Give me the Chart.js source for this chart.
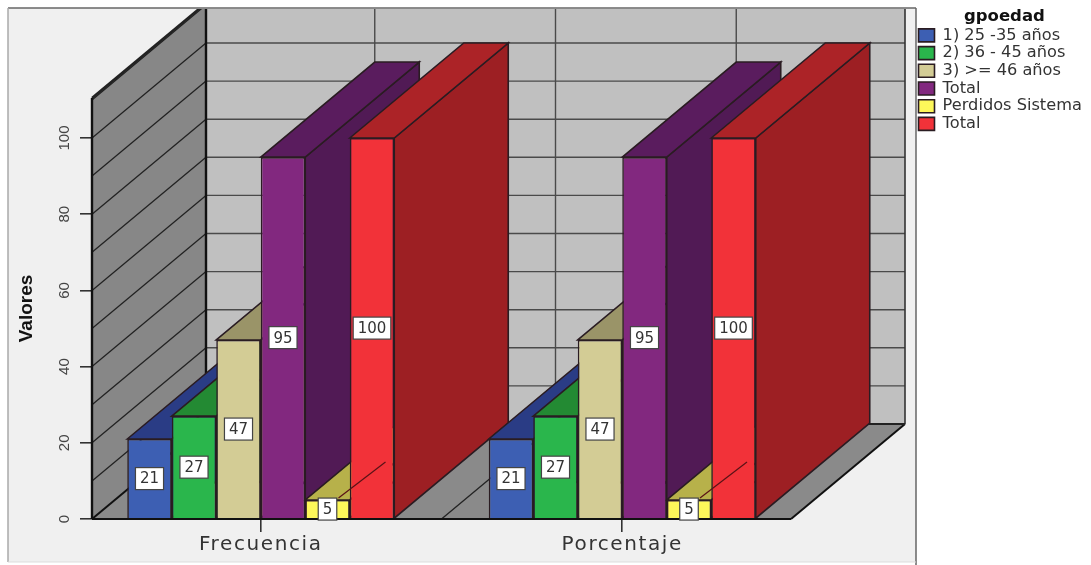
<!DOCTYPE html>
<html>
<head>
<meta charset="utf-8">
<title>Valores por gpoedad</title>
<script src="https://cdn.jsdelivr.net/npm/chart.js@4/dist/chart.umd.js"></script>
<style>
  html, body { margin: 0; padding: 0; background: #fff; }
  canvas { display: block; }
</style>
</head>
<body>
<canvas id="myChart" width="1091" height="565"></canvas>
<script>
// data
const categories = ['Frecuencia', 'Porcentaje'];
const seriesNames = ['1) 25 -35 años', '2) 36 - 45 años', '3) >= 46 años', 'Total', 'Perdidos Sistema', 'Total'];
const edad25a35 = [21, 21];
const edad36a45 = [27, 27];
const edad46mas = [47, 47];
const totalValidos = [95, 95];
const perdidos = [5, 5];
const totalGeneral = [100, 100];
const yTicks = [0, 20, 40, 60, 80, 100];
const wallLevels = [0, 10, 20, 30, 40, 50, 60, 70, 80, 90, 100, 110];

// colours of each box: front, side, top
const frontColors = ['#3d5fb3', '#2ab64c', '#d3cc95', '#82287f', '#fdf75a', '#f23239'];
const sideColors = ['#2a3c85', '#238a33', '#9a9468', '#511a55', '#b7b14a', '#9d1f23'];
const topColors = ['#2a3c85', '#238a33', '#9a9468', '#5a1c5e', '#b7b14a', '#ac2327'];
const edge = '#2a1c22';

// 3D look: how far the back plane is shifted from the front plane
const depthX = 114;
const depthY = 95;
const wallInset = 12;

const values = [edad25a35, edad36a45, edad46mas, totalValidos, perdidos, totalGeneral];

function poly(ctx, pts, fill, stroke, width) {
  ctx.beginPath();
  pts.forEach((p, i) => i ? ctx.lineTo(p[0], p[1]) : ctx.moveTo(p[0], p[1]));
  ctx.closePath();
  if (fill) { ctx.fillStyle = fill; ctx.fill(); }
  if (stroke) { ctx.strokeStyle = stroke; ctx.lineWidth = width; ctx.stroke(); }
}

function line(ctx, x1, y1, x2, y2, color, width) {
  ctx.beginPath();
  ctx.moveTo(x1, y1);
  ctx.lineTo(x2, y2);
  ctx.strokeStyle = color;
  ctx.lineWidth = width;
  ctx.stroke();
}

const panelPlugin = {
  id: 'panel',
  afterLayout(chart) {
    // legend sits outside the plot panel
    const legend = chart.legend;
    legend.left = 917;
    legend.right = legend.left + legend.width;
    legend.top = 8;
    legend.bottom = legend.top + legend.height;
  },
  beforeDraw(chart) {
    const ctx = chart.ctx;
    ctx.save();
    ctx.fillStyle = '#f0f0f0';
    ctx.fillRect(8, 8, 908, 554);
    line(ctx, 8, 8, 916, 8, '#666', 1.5);
    line(ctx, 916, 8, 916, 565, '#666', 1.5);
    line(ctx, 8, 8, 8, 562, '#aaa', 1.5);
    line(ctx, 8, 562, 916, 562, '#ddd', 1);
    ctx.restore();

    // category names are set wide
    const xAxis = chart.scales.x;
    if (!xAxis.spaced) {
      const drawLabels = xAxis.drawLabels;
      xAxis.drawLabels = function (area) {
        ctx.letterSpacing = '1.6px';
        drawLabels.call(this, area);
        ctx.letterSpacing = '0px';
      };
      xAxis.spaced = true;
    }
  }
};

const boxesPlugin = {
  id: 'boxes',
  beforeDatasetsDraw(chart) {
    const ctx = chart.ctx;
    const yScale = chart.scales.y;
    const xScale = chart.scales.x;
    const left = chart.chartArea.left + wallInset;
    const right = chart.chartArea.right - wallInset;
    const zero = yScale.getPixelForValue(0);
    const top = yScale.getPixelForValue(110.5);

    ctx.save();
    ctx.beginPath();
    ctx.rect(8, 9, 908, 555);
    ctx.clip();

    // back wall, side wall, floor
    poly(ctx, [[left + depthX, 8], [right + depthX, 8], [right + depthX, zero - depthY], [left + depthX, zero - depthY]], '#c0c0c0');
    poly(ctx, [[left, top], [left + depthX, top - depthY], [left + depthX, zero - depthY], [left, zero]], '#878787');
    poly(ctx, [[left, zero], [left + depthX, zero - depthY], [right + depthX, zero - depthY], [right, zero]], '#8a8a8a');

    wallLevels.forEach(v => {
      const y = yScale.getPixelForValue(v);
      line(ctx, left + depthX, y - depthY, right + depthX, y - depthY, '#4a4a4a', 1.4);
      if (v > 0) line(ctx, left, y, left + depthX, y - depthY, '#222', 1.3);
    });

    // verticals on the back wall and their lines across the floor
    [xScale.getPixelForValue(0), xScale.getPixelForValue(0.5), xScale.getPixelForValue(1)].forEach(x => {
      line(ctx, x + depthX, 8, x + depthX, zero - depthY, '#4a4a4a', 1.4);
      line(ctx, x, zero, x + depthX, zero - depthY, '#222', 1.3);
    });

    line(ctx, left, top, left + depthX, top - depthY, '#222', 2.4);
    line(ctx, left, top, left, zero, '#111', 2.4);
    line(ctx, left + depthX, 8, left + depthX, zero - depthY, '#111', 2.4);
    line(ctx, left, zero, left + depthX, zero - depthY, '#111', 2);
    line(ctx, right, zero, right + depthX, zero - depthY, '#111', 2);
    line(ctx, right + depthX, 8, right + depthX, zero - depthY, '#333', 1.6);
    line(ctx, left + depthX, zero - depthY, right + depthX, zero - depthY, '#222', 1.8);

    // side and top of every bar, left to right so nearer ones cover the rest
    categories.forEach((c, j) => {
      values.forEach((v, i) => {
        const bar = chart.getDatasetMeta(i).data[j];
        const x1 = bar.x - bar.width / 2;
        const x2 = bar.x + bar.width / 2;
        poly(ctx, [[x2, bar.y], [x2 + depthX, bar.y - depthY], [x2 + depthX, bar.base - depthY], [x2, bar.base]], sideColors[i], edge, 1.6);
        poly(ctx, [[x1, bar.y], [x1 + depthX, bar.y - depthY], [x2 + depthX, bar.y - depthY], [x2, bar.y]], topColors[i], edge, 1.6);
      });
    });
    ctx.restore();
  },
  afterDatasetsDraw(chart) {
    const ctx = chart.ctx;
    const yScale = chart.scales.y;
    const zero = yScale.getPixelForValue(0);
    line(ctx, chart.chartArea.left + wallInset, zero, chart.chartArea.right - wallInset, zero, '#111', 2);

    ctx.save();
    ctx.font = '15px "DejaVu Sans"';
    ctx.textAlign = 'center';
    ctx.textBaseline = 'middle';
    categories.forEach((c, j) => {
      values.forEach((v, i) => {
        const bar = chart.getDatasetMeta(i).data[j];
        const cy = (bar.y + bar.base) / 2;
        const text = String(v[j]);

        // the small bar's label is tied to its box by a short leader
        if (i === 4) line(ctx, bar.x + 11, bar.y - 2, bar.x + 58, bar.y - 38, '#5a1216', 1.2);

        const w = ctx.measureText(text).width + 9;
        ctx.fillStyle = '#fff';
        ctx.fillRect(bar.x - w / 2, cy - 11, w, 22);
        ctx.strokeStyle = '#444';
        ctx.lineWidth = 1.2;
        ctx.strokeRect(bar.x - w / 2, cy - 11, w, 22);
        ctx.fillStyle = '#333';
        ctx.fillText(text, bar.x, cy + 1);
      });
    });
    ctx.restore();
  }
};

const data = {
  labels: categories,
  datasets: seriesNames.map((name, i) => ({
    label: name,
    data: values[i],
    backgroundColor: frontColors[i],
    borderColor: edge,
    borderWidth: 1.6
  }))
};

const config = {
  type: 'bar',
  data,
  plugins: [panelPlugin, boxesPlugin],
  options: {
    responsive: false,
    animation: false,
    layout: { padding: { top: 98, right: 288, bottom: 0, left: 0 } },
    datasets: { bar: { categoryPercentage: 0.7386, barPercentage: 1 } },
    scales: {
      x: {
        afterFit: s => { s.height = 46; },
        border: { display: false },
        grid: { offset: false, drawOnChartArea: false, tickLength: 13, color: '#333', lineWidth: 1.6 },
        ticks: { color: '#333', padding: 1, maxRotation: 0, font: { family: '"DejaVu Sans"', size: 20 } }
      },
      y: {
        min: 0,
        max: 110.5,
        afterFit: s => { s.width = 80; },
        afterBuildTicks: s => { s.ticks = yTicks.map(v => ({ value: v })); },
        border: { display: false },
        grid: { drawOnChartArea: false, tickLength: -12, color: '#333', lineWidth: 1.6 },
        ticks: {
          color: '#444',
          minRotation: 90,
          maxRotation: 90,
          crossAlign: 'center',
          padding: 15,
          font: { family: '"Liberation Sans"', size: 15 }
        },
        title: {
          display: true,
          text: 'Valores',
          color: '#111',
          padding: { top: 15, bottom: 0 },
          font: { family: '"Liberation Sans"', size: 19, weight: 'bold' }
        }
      }
    },
    plugins: {
      tooltip: { enabled: false },
      legend: {
        position: 'chartArea',
        align: 'start',
        title: {
          display: true,
          text: 'gpoedad',
          color: '#111',
          position: 'center',
          padding: { top: 0, bottom: -2 },
          font: { family: '"DejaVu Sans"', size: 16.5, weight: 'bold' }
        },
        labels: {
          boxWidth: 16,
          boxHeight: 13,
          padding: 1.5,
          color: '#333',
          font: { family: '"DejaVu Sans"', size: 16.2 }
        }
      }
    }
  }
};

const myChart = new Chart(document.getElementById('myChart'), config);
</script>
</body>
</html>
